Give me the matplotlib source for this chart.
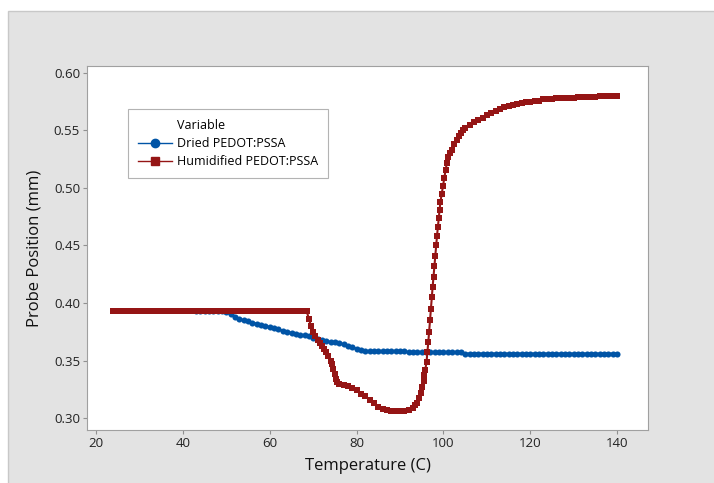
import matplotlib
matplotlib.use("Agg")
import matplotlib.pyplot as plt
from matplotlib.lines import Line2D
from matplotlib.patches import Rectangle

plt.rcParams['font.family'] = ['Open Sans', 'DejaVu Sans']

# humidified film
hum_t = [24, 25, 26, 27, 28, 29, 30, 31, 32, 33, 34, 35, 36, 37, 38, 39, 40,
         41, 42, 43, 44, 45, 46, 47, 48, 49, 50, 51, 52, 53, 54, 55, 56, 57,
         58, 59, 60, 61, 62, 63, 64, 65, 66, 67, 68, 68.5,
         69, 69.5, 70, 70.5, 71, 71.5, 72, 72.5, 73, 73.5, 74, 74.3, 74.6,
         74.9, 75.2, 75.5, 76, 77, 78, 79, 80, 81, 82, 83, 84, 85, 86, 87, 88,
         89, 90, 91, 92, 93, 93.5, 94, 94.4, 94.8, 95.1, 95.4, 95.6, 95.8,
         96.1, 96.3, 96.5, 96.7, 96.9, 97.1, 97.3, 97.5, 97.7, 97.9, 98.1, 98.3,
         98.5, 98.7, 98.9, 99.1, 99.3, 99.6, 99.9, 100.2, 100.5, 100.8, 101.1,
         101.5, 102, 102.5, 103, 103.5, 104, 104.5, 105, 106, 107, 108, 109,
         110, 111, 112, 113, 114, 115, 116, 117, 118, 119, 120, 121, 122, 123,
         124, 125, 126, 127, 128, 129, 130, 131, 132, 133, 134, 135, 136, 137,
         138, 139, 140]
hum_p = [0.393, 0.393, 0.393, 0.393, 0.393, 0.393, 0.393, 0.393, 0.393, 0.393,
         0.393, 0.393, 0.393, 0.393, 0.393, 0.393, 0.393, 0.393, 0.393, 0.393,
         0.393, 0.393, 0.393, 0.393, 0.393, 0.393, 0.393, 0.393, 0.393, 0.393,
         0.393, 0.393, 0.393, 0.393, 0.393, 0.393, 0.393, 0.393, 0.393, 0.393,
         0.393, 0.393, 0.393, 0.393, 0.393, 0.393,
         0.386, 0.380, 0.375, 0.371, 0.368, 0.365, 0.363, 0.360, 0.357, 0.354,
         0.350, 0.347, 0.343, 0.338, 0.334, 0.331, 0.330, 0.329, 0.328, 0.326,
         0.324, 0.321, 0.319, 0.316, 0.313, 0.310, 0.308, 0.307, 0.306, 0.306,
         0.306, 0.306, 0.307, 0.309, 0.311, 0.313, 0.317, 0.322, 0.327, 0.332,
         0.337, 0.342,
         0.349, 0.357, 0.366, 0.375, 0.385, 0.395, 0.405, 0.414, 0.423,
         0.432, 0.441, 0.450, 0.458, 0.466, 0.474, 0.481, 0.488, 0.495, 0.502,
         0.509, 0.516, 0.522, 0.527, 0.530, 0.533, 0.538, 0.542, 0.545, 0.548,
         0.550, 0.552, 0.555, 0.557, 0.559, 0.561, 0.563, 0.565, 0.567, 0.569,
         0.570, 0.571, 0.572, 0.573, 0.574, 0.575, 0.575, 0.576, 0.576, 0.577,
         0.577, 0.577, 0.578, 0.578, 0.578, 0.578, 0.578, 0.579, 0.579, 0.579,
         0.579, 0.579, 0.580, 0.580, 0.580, 0.580, 0.580]

# dried film
dry_t = [43, 44, 45, 46, 47, 48, 49, 50, 51, 52, 53, 54, 55, 56, 57, 58, 59,
         60, 61, 62, 63, 64, 65, 66, 67, 68, 69, 70, 71, 72, 73, 74, 75, 76,
         77, 78, 79, 80, 81, 82, 83, 84, 85, 86, 87, 88, 89, 90, 91, 92, 93,
         94, 95, 96, 97, 98, 99, 100, 101, 102, 103, 104, 105, 106, 107, 108,
         109, 110, 111, 112, 113, 114, 115, 116, 117, 118, 119, 120, 121, 122,
         123, 124, 125, 126, 127, 128, 129, 130, 131, 132, 133, 134, 135, 136,
         137, 138, 139, 140]
dry_p = [0.393, 0.393, 0.393, 0.393, 0.393, 0.393, 0.393, 0.392, 0.390, 0.388,
         0.386, 0.385, 0.384, 0.383, 0.382, 0.381, 0.380, 0.379, 0.378, 0.377,
         0.376, 0.375, 0.374, 0.373, 0.372, 0.372, 0.371, 0.370, 0.369, 0.368,
         0.367, 0.366, 0.366, 0.365, 0.364, 0.363, 0.362, 0.360, 0.359, 0.358,
         0.358, 0.358, 0.358, 0.358, 0.358, 0.358, 0.358, 0.358, 0.358, 0.357,
         0.357, 0.357, 0.357, 0.357, 0.357, 0.357, 0.357, 0.357, 0.357, 0.357,
         0.357, 0.357, 0.356, 0.356, 0.356, 0.356, 0.356, 0.356, 0.356, 0.356,
         0.356, 0.356, 0.356, 0.356, 0.356, 0.356, 0.356, 0.356, 0.356, 0.356,
         0.356, 0.356, 0.356, 0.356, 0.356, 0.356, 0.356, 0.356, 0.356, 0.356,
         0.356, 0.356, 0.356, 0.356, 0.356, 0.356, 0.356, 0.356]

x_ticks = [20, 40, 60, 80, 100, 120, 140]
y_ticks = [0.30, 0.35, 0.40, 0.45, 0.50, 0.55, 0.60]

blue = '#0054a6'
red = '#951515'

fig = plt.figure(figsize=(7.14, 4.83), dpi=100)
fig.patch.set_facecolor('white')
fig.patches.append(Rectangle((8 / 714, -0.01), 1.0, (483 - 11) / 483 + 0.01,
                             transform=fig.transFigure, facecolor='#e3e3e3',
                             edgecolor='#c8c8c8', lw=1, zorder=-10))

ax = fig.add_axes([87 / 714, 1 - 430 / 483, (648 - 87) / 714, (430 - 66) / 483])
ax.set_zorder(5)
ax.set_facecolor('white')

ax.plot(dry_t, dry_p, color=blue, lw=1.5, marker='o', ms=4.4, mew=0)
ax.plot(hum_t, hum_p, color=red, lw=1.5, marker='s', ms=4.4, mew=0)

ax.set_xlim(17.9, 147.1)
ax.set_ylim(0.2896, 0.606)
ax.set_xticks(x_ticks)
ax.set_yticks(y_ticks)
ax.set_yticklabels(['%.2f' % v for v in y_ticks])
ax.tick_params(direction='out', length=3, color='#909090', labelsize=9.5,
               labelcolor='#222222', pad=2)
for s in ax.spines.values():
    s.set_color('#a0a0a0')

ax.set_xlabel('Temperature (C)', fontsize=12, color='#111111', labelpad=6)
ax.set_ylabel('Probe Position (mm)', fontsize=12, color='#111111', labelpad=8)

handles = [Line2D([], [], linestyle='none'),
           Line2D([], [], color=blue, lw=1, marker='o', ms=6),
           Line2D([], [], color=red, lw=1, marker='s', ms=6)]
labels = ['Variable', 'Dried PEDOT:PSSA', 'Humidified PEDOT:PSSA']
leg = ax.legend(handles, labels, loc='upper left',
                bbox_to_anchor=(0.073, 0.882), fontsize=9, frameon=True,
                fancybox=False, edgecolor='#a0a0a0', handlelength=2.7,
                handletextpad=0.45, borderpad=0.8, labelspacing=0.4,
                borderaxespad=0)
leg.get_frame().set_linewidth(0.8)

fig.savefig('out.png', dpi=100)
